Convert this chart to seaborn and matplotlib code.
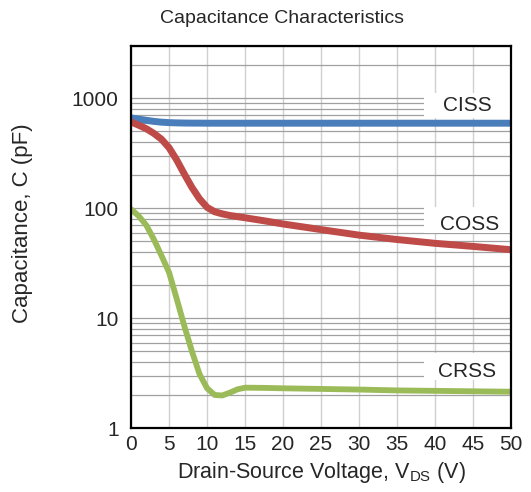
import matplotlib
matplotlib.use('Agg')
import matplotlib.pyplot as plt
from matplotlib.patches import Rectangle
from matplotlib.ticker import LogLocator, FixedLocator, NullFormatter
import numpy as np
import pandas as pd
import seaborn as sns

# values (V_DS in volts, capacitance in pF)
vds = [0, 1, 2, 3, 4, 5, 6, 7, 8, 9, 10, 11, 12, 13, 14, 15, 17.5, 20,
       25, 30, 35, 40, 45, 50]
ciss = [665, 648, 632, 618, 608, 602, 599, 597, 596, 596, 595, 595, 595,
        595, 595, 595, 595, 595, 595, 595, 595, 595, 595, 595]
coss = [610, 570, 530, 480, 425, 355, 275, 205, 155, 122, 102, 93, 89, 86,
        84, 82, 77, 72, 64, 57, 52, 48, 45, 42]
crss = [98, 85, 70, 52, 37, 26, 15, 8.5, 5.0, 3.1, 2.3, 2.0, 1.98, 2.1,
        2.25, 2.33, 2.32, 2.3, 2.27, 2.24, 2.2, 2.18, 2.16, 2.14]
labels = ['CISS', 'COSS', 'CRSS']
colors = ['#4a7ebb', '#be4b48', '#9bbb59']

# label placement (text centre, white box extent in y)
label_xy = [(44.3, 860), (44.6, 71), (44.3, 3.3)]
box_y = [(658, 1110), (59, 102), (2.73, 4.8)]

df = pd.DataFrame({'vds': vds * 3,
                   'cap': ciss + coss + crss,
                   'series': [l for l in labels for _ in vds]})

sns.set_style('white')
plt.rcParams['font.family'] = ['Liberation Sans', 'DejaVu Sans']
plt.rcParams['mathtext.default'] = 'regular'

fig = plt.figure(figsize=(5.31, 4.92), dpi=100)
ax = fig.add_axes([0.247, 0.13, 0.715, 0.7765])

sns.lineplot(data=df, x='vds', y='cap', hue='series', palette=colors,
             linewidth=5, legend=False, ax=ax, zorder=3)
ax.lines[2].set_linewidth(4.2)

ax.set_yscale('log')
ax.set_xlim(0, 50)
ax.set_ylim(1, 3000)
ax.set_xticks(range(0, 51, 5))
ax.yaxis.set_major_locator(FixedLocator([1, 10, 100, 1000]))
ax.yaxis.set_minor_locator(LogLocator(base=10, subs=np.arange(2, 10)))
ax.yaxis.set_minor_formatter(NullFormatter())
ax.set_yticklabels(['1', '10', '100', '1000'])

ax.grid(True, axis='x', color='#d0d0d0', linewidth=1, zorder=0)
ax.grid(True, axis='y', which='both', color='#a0a0a0', linewidth=0.9, zorder=0)
ax.set_axisbelow(True)

for lbl, (x, y), (y0, y1) in zip(labels, label_xy, box_y):
    ax.add_patch(Rectangle((38.6, y0), 11.4, y1 - y0, facecolor='white',
                           edgecolor='none', zorder=1))
    ax.text(x, y, lbl, fontsize=15, ha='center', va='center', zorder=2)

for s in ax.spines.values():
    s.set_color('black')
    s.set_linewidth(1.6)
    s.set_zorder(5)

ax.tick_params(axis='both', which='both', length=0, labelsize=15)
ax.tick_params(axis='y', pad=9)
ax.tick_params(axis='x', pad=5)
fig.text(0.531, 0.963, 'Capacitance Characteristics', fontsize=14,
         ha='center', va='center')
ax.set_xlabel('Drain-Source Voltage, V$_{DS}$ (V)', fontsize=15.5, labelpad=4)
ax.set_ylabel('Capacitance, C (pF)', fontsize=16)
ax.yaxis.set_label_coords(-0.258, 0.537)

fig.savefig('out.png', dpi=100)
